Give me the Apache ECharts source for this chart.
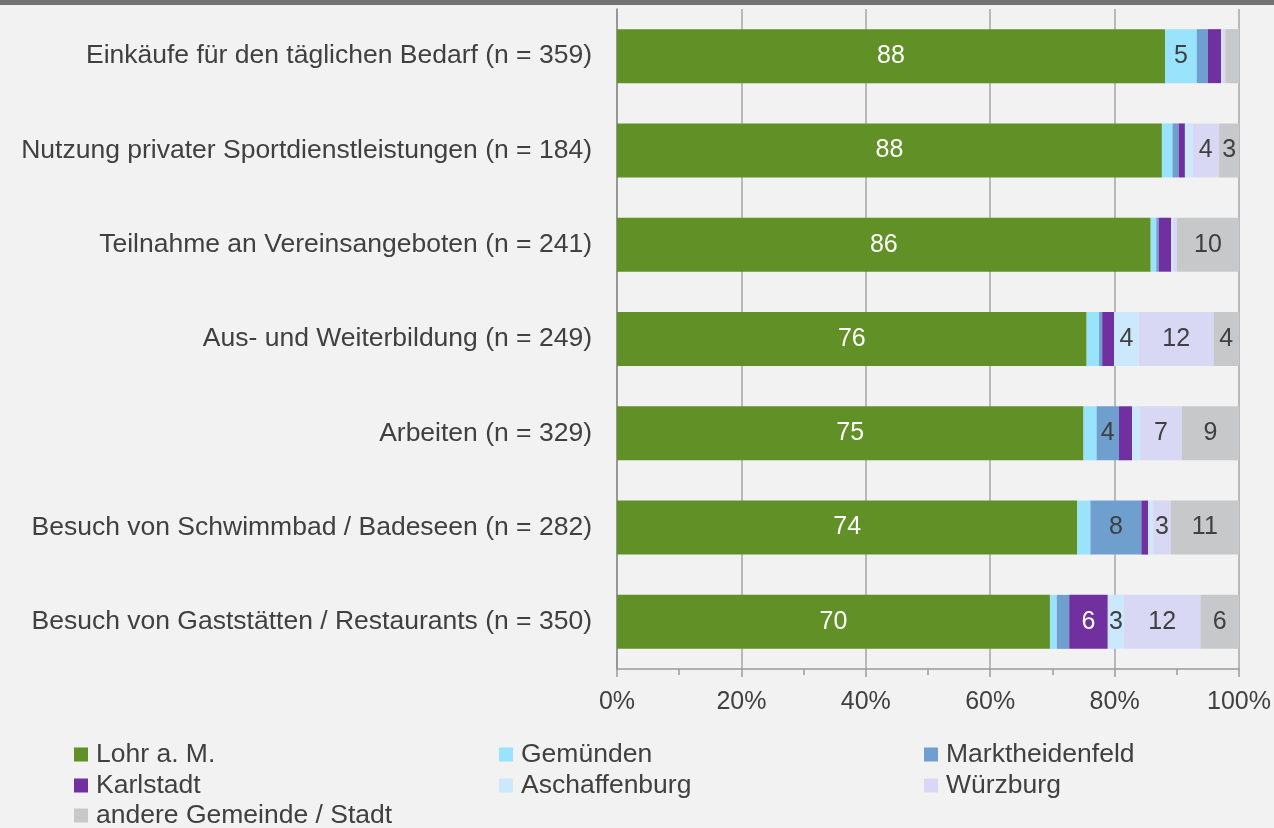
<!DOCTYPE html>
<html><head><meta charset="utf-8">
<script src="https://cdn.jsdelivr.net/npm/echarts@6/dist/echarts.min.js"></script>
<style>html,body{margin:0;padding:0;background:#f2f2f2;overflow:hidden;}#top{height:5px;background:#737373;}#c{width:1274px;height:823px;}</style>
</head><body><div id="top"></div><div id="c"></div>
<script>
const categories = [
  'Einkäufe für den täglichen Bedarf (n = 359)',
  'Nutzung privater Sportdienstleistungen (n = 184)',
  'Teilnahme an Vereinsangeboten (n = 241)',
  'Aus- und Weiterbildung (n = 249)',
  'Arbeiten (n = 329)',
  'Besuch von Schwimmbad / Badeseen (n = 282)',
  'Besuch von Gaststätten / Restaurants (n = 350)'
];
const seriesNames = ['Lohr a. M.','Gemünden','Marktheidenfeld','Karlstadt','Aschaffenburg','Würzburg','andere Gemeinde / Stadt'];
const lohr        = [88.1, 87.6, 85.8, 75.5, 75.0, 74.0, 69.6];
const gemuenden   = [5.1, 1.7, 0.9, 2.0, 2.1, 2.1, 1.1];
const marktheid   = [1.8, 1.0, 0.4, 0.5, 3.6, 8.2, 2.0];
const karlstadt   = [2.1, 1.0, 2.0, 1.9, 2.1, 1.1, 6.2];
const aschaffenb  = [0.2, 1.2, 0.3, 4.0, 1.3, 0.8, 2.6];
const wuerzburg   = [0.5, 4.3, 0.6, 12.0, 6.7, 2.8, 12.3];
const andere      = [2.2, 3.2, 10.0, 4.1, 9.2, 11.0, 6.2];
const xTicks = [0, 20, 40, 60, 80, 100];

const values = [lohr, gemuenden, marktheid, karlstadt, aschaffenb, wuerzburg, andere];
const colors = ['#619126','#99e3fc','#6e9fcf','#7030a0','#cce8fc','#d8d8f4','#c6c8ca'];
const labelColors = ['#ffffff','#404040','#404040','#ffffff','#404040','#404040','#404040'];
const FONT = 'Liberation Sans, Arial, sans-serif';

const chart = echarts.init(document.getElementById('c'));
const legendPos = [[69,736],[494,736],[919,736],[69,767],[494,767],[919,767],[69,797]];
const legends = seriesNames.map((n,i)=>({
  data:[n], left:legendPos[i][0], top:legendPos[i][1]-5, orient:'horizontal',
  itemWidth:14, itemHeight:14, itemGap:0, icon:'rect',
  textStyle:{fontFamily:FONT,fontSize:26.5,color:'#404040',padding:[0,0,0,3]}
}));
chart.setOption({
  backgroundColor:'#f2f2f2',
  animation:false,
  legend: legends,
  grid:{left:617,right:33,top:4,bottom:159,containLabel:false},
  xAxis:{type:'value',min:xTicks[0],max:xTicks[xTicks.length-1],interval:20,
    axisLine:{show:true,lineStyle:{color:'#9a9a9a',width:1.5}},
    axisTick:{show:true,length:8,lineStyle:{color:'#9a9a9a',width:1.5}},
    minorTick:{show:true,splitNumber:2,length:6,lineStyle:{color:'#9a9a9a',width:1.5}},
    splitLine:{show:true,lineStyle:{color:'#a6a6a6',width:1.5}},
    axisLabel:{formatter:'{value}%',fontFamily:FONT,fontSize:25,color:'#404040',margin:21}
  },
  yAxis:{type:'category',data:categories,inverse:true,
    axisLine:{show:true,lineStyle:{color:'#8c8c8c',width:1.5}},
    axisTick:{show:false},
    axisLabel:{fontFamily:FONT,fontSize:26.5,color:'#404040',margin:25}
  },
  series: seriesNames.map((n,i)=>({
    name:n,type:'bar',stack:'all',data:values[i],barWidth:54,
    itemStyle:{color:colors[i]},
    label:{show:true,position:'inside',fontFamily:FONT,fontSize:25,color:labelColors[i],
      formatter:p=>Math.round(p.value)>=3?String(Math.round(p.value)):''}
  }))
});
</script></body></html>
